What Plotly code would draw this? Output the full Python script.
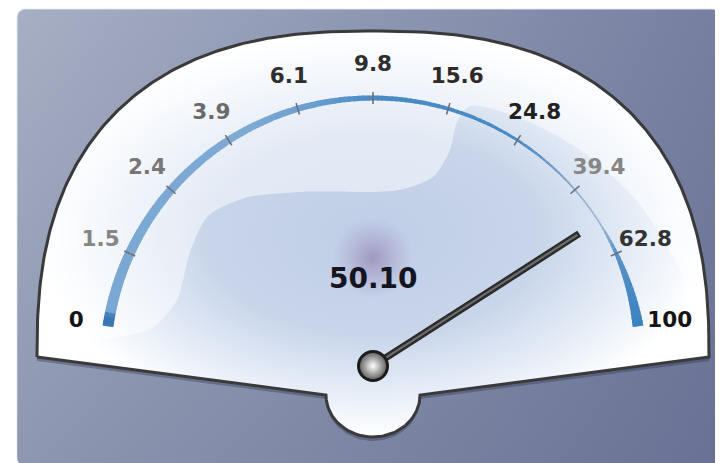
import numpy as np
import plotly.graph_objects as go

# ---------------- data ----------------
tick_labels = ["0", "1.5", "2.4", "3.9", "6.1", "9.8", "15.6", "24.8", "39.4", "62.8", "100"]
tick_values = [0, 1.5, 2.4, 3.9, 6.1, 9.8, 15.6, 24.8, 39.4, 62.8, 100]
needle_value = 50.10
value_text = "50.10"

# ---------------- geometry / style ----------------
PAGE_W, PAGE_H = 723, 463
OFF = 8                           # browser body margin
W, H = PAGE_W - OFF, PAGE_H - OFF  # figure size so that it fits the window
CX, CY = 373, 366                 # pivot of the gauge (page px)
R_MAX = 340                       # radial range of the polar subplot (1 unit = 1 px)
START_ANGLE, END_ANGLE = 171.5, 8.5
N_TICKS = len(tick_values)
STEP = (START_ANGLE - END_ANGLE) / (N_TICKS - 1)
BAND_R = 268
TICK_HALF = 6
LABEL_R = 300
NEEDLE_LEN = 245

label_colors = ["#141414", "#858585", "#7a7676", "#6a6a6a", "#2e2e2e", "#2e2e2e",
                "#2e2a2a", "#222222", "#868686", "#333333", "#141414"]
band_profile_idx = [0, 8.0, 8.6, 9.0, 10]
band_profile_w = [11, 1.6, 1.6, 4.0, 11]
band_colorscale = [[0.0, "#3a76b6"], [0.014, "#3a76b6"], [0.022, "#7aa8d3"], [0.33, "#7eaad4"],
                   [0.42, "#6a9ecf"], [0.5, "#4a8bc5"], [0.7, "#4a89c2"], [0.76, "#6f9bc8"],
                   [0.82, "#9ab4d0"], [0.86, "#9ab6d3"], [0.9, "#5a92c6"], [1.0, "#3a83c0"]]


def value_to_index(v):
    tv = np.asarray(tick_values, float)
    i = int(np.clip(np.searchsorted(tv, v) - 1, 0, len(tv) - 2))
    lo, hi = tv[i], tv[i + 1]
    frac = (v - lo) / (hi - lo) if lo <= 0 else np.log(v / lo) / np.log(hi / lo)
    return i + frac


tick_theta = [i * STEP for i in range(N_TICKS)]
needle_theta = value_to_index(needle_value) * STEP

# ---------------- decoration paths (page px space) ----------------
def rounded_rect(x0, y0, x1, y1, r, n=10):
    xs, ys = [], []
    for ccx, ccy, a0, a1 in [(x1 - r, y0 + r, -90, 0), (x1 - r, y1 - r, 0, 90),
                             (x0 + r, y1 - r, 90, 180), (x0 + r, y0 + r, 180, 270)]:
        a = np.radians(np.linspace(a0, a1, n))
        xs += list(ccx + r * np.cos(a))
        ys += list(ccy + r * np.sin(a))
    return xs + [xs[0]], ys + [ys[0]]


FCX, FCY, FA, FB, FN = 373, 357, 336, 326, 2.5
NCX, NCY, NRX, NRY = 373, 395, 47, 42


def rim(t):
    ct, st = np.cos(t), np.sin(t)
    return FCX + FA * np.sign(ct) * np.abs(ct) ** (2 / FN), FCY - FB * np.abs(st) ** (2 / FN)


def face_path(dy=0):
    t = np.linspace(np.pi, 0, 240)
    rx, ry = rim(t)
    xs, ys = list(rx), list(ry + dy)
    a = np.linspace(0, np.pi, 60)
    xs += list(NCX + NRX * np.cos(a))
    ys += list(NCY + dy + NRY * np.sin(a))
    return xs + [xs[0]], ys + [ys[0]]


bg_x, bg_y = rounded_rect(17, 9, 721, 466, 8)
face_x, face_y = face_path()
sh_x, sh_y = face_path(4)

s_curve = [(41, 338), (110, 338), (152, 328), (177, 300), (190, 252), (208, 216), (245, 198),
           (300, 192), (400, 190), (434, 176), (450, 150), (457, 122), (470, 106), (520, 118),
           (580, 150), (636, 200), (680, 270), (700, 330), (707, 338)]
t_r = np.linspace(0, np.pi, 120)
rxr, ryr = rim(t_r)
keep = ryr <= 338
gloss_x = [p[0] for p in s_curve] + list(rxr[keep] - np.sign(rxr[keep] - FCX) * 2)
gloss_y = [p[1] for p in s_curve] + list(ryr[keep] + 2)

fig = go.Figure()

# background panel
fig.add_trace(go.Scatter(x=bg_x, y=bg_y, mode="lines", fill="toself",
                         line=dict(color="rgba(230,233,242,0.9)", width=1),
                         fillgradient=dict(type="horizontal",
                                           colorscale=[[0, "#a6afc4"], [1, "#767fa0"]]),
                         hoverinfo="skip"))
fig.add_trace(go.Scatter(x=bg_x, y=bg_y, mode="lines", fill="toself", line=dict(width=0),
                         fillgradient=dict(type="vertical",
                                           colorscale=[[0, "rgba(55,65,105,0.22)"], [1, "rgba(55,65,105,0)"]]),
                         hoverinfo="skip"))
# face shadow
fig.add_trace(go.Scatter(x=sh_x, y=sh_y, mode="lines", fill="toself", line=dict(width=0),
                         fillcolor="rgba(40,45,70,0.35)", hoverinfo="skip"))
# face
fig.add_trace(go.Scatter(x=face_x, y=face_y, mode="lines", fill="toself",
                         line=dict(color="#3a3a3c", width=3),
                         fillgradient=dict(type="radial",
                                           colorscale=[[0, "#bfcde6"], [0.5, "#c8d5ea"],
                                                       [0.78, "#e6edf7"], [1, "#ffffff"]]),
                         hoverinfo="skip"))
# gloss
fig.add_trace(go.Scatter(x=gloss_x, y=gloss_y, mode="lines", fill="toself",
                         line=dict(width=0, shape="spline", smoothing=0.8),
                         fillcolor="rgba(255,255,255,0.5)", hoverinfo="skip"))
# glow behind value
fig.add_trace(go.Scatter(x=[CX], y=[258], mode="markers",
                         marker=dict(size=80, color="rgba(160,140,185,0)", line=dict(width=0),
                                     gradient=dict(type="radial", color="rgba(135,115,165,0.6)")),
                         hoverinfo="skip"))

# ---------------- gauge (polar) ----------------
n_seg = 160
seg_idx = (np.arange(n_seg) + 0.5) * (N_TICKS - 1) / n_seg
seg_w = np.interp(seg_idx, band_profile_idx, band_profile_w)
fig.add_trace(go.Barpolar(theta=seg_idx * STEP, r=seg_w, base=BAND_R - seg_w / 2,
                          width=[STEP * (N_TICKS - 1) / n_seg * 1.25] * n_seg,
                          marker=dict(color=seg_idx / (N_TICKS - 1), colorscale=band_colorscale,
                                      cmin=0, cmax=1, line=dict(width=0)),
                          hoverinfo="skip", subplot="polar"))

tr, tt = [], []
for th in tick_theta[1:-1]:
    tr += [BAND_R - TICK_HALF, BAND_R + TICK_HALF, None]
    tt += [th, th, None]
fig.add_trace(go.Scatterpolar(r=tr, theta=tt, mode="lines", line=dict(color="#6e7078", width=1.6),
                              hoverinfo="skip", subplot="polar", cliponaxis=False))

fig.add_trace(go.Scatterpolar(r=[LABEL_R] * N_TICKS, theta=tick_theta, mode="text", text=tick_labels,
                              textposition="middle center",
                              textfont=dict(family="DejaVu Sans", size=21.5, color=label_colors, weight="bold"),
                              hoverinfo="skip", subplot="polar", cliponaxis=False))

fig.add_trace(go.Scatterpolar(r=[0, NEEDLE_LEN], theta=[needle_theta] * 2, mode="lines",
                              line=dict(color="#2a2a2a", width=7), hoverinfo="skip",
                              subplot="polar", cliponaxis=False))
fig.add_trace(go.Scatterpolar(r=[0, NEEDLE_LEN - 2], theta=[needle_theta] * 2, mode="lines",
                              line=dict(color="#6c6c6c", width=2.2), hoverinfo="skip",
                              subplot="polar", cliponaxis=False))
fig.add_trace(go.Scatterpolar(r=[0], theta=[needle_theta], mode="markers",
                              marker=dict(size=29, color="#5a5a5a", line=dict(color="#1c1c1c", width=3),
                                          gradient=dict(type="radial", color="#ffffff")),
                              hoverinfo="skip", subplot="polar", cliponaxis=False))

# polar domain so that the pole lands on (CX, CY) and 1 radial unit = 1 px
bx0 = np.cos(np.radians(START_ANGLE))
bx1 = np.cos(np.radians(END_ANGLE))
x_off = (CX - OFF) + R_MAX * bx0
x_len = R_MAX * (bx1 - bx0)
y_off = (CY - OFF) - R_MAX
polar_domain = dict(x=[x_off / W, (x_off + x_len) / W],
                    y=[1 - (y_off + R_MAX) / H - 1e-6, 1 - y_off / H + 1e-6])

fig.update_layout(
    width=W, height=H, margin=dict(l=0, r=0, t=0, b=0),
    paper_bgcolor="white", plot_bgcolor="rgba(0,0,0,0)", showlegend=False,
    xaxis=dict(range=[OFF, PAGE_W], visible=False, fixedrange=True, domain=[0, 1]),
    yaxis=dict(range=[PAGE_H, OFF], visible=False, fixedrange=True, domain=[0, 1]),
    polar=dict(domain=polar_domain, sector=[END_ANGLE, START_ANGLE], bgcolor="rgba(0,0,0,0)",
               hole=0,
               radialaxis=dict(range=[0, R_MAX], visible=False),
               angularaxis=dict(rotation=START_ANGLE, direction="clockwise", visible=False,
                                thetaunit="degrees")),
    annotations=[dict(x=CX, y=278, xref="x", yref="y", text=value_text, showarrow=False,
                      font=dict(family="DejaVu Sans", size=28, color="#15151f", weight="bold"))],
)

fig.write_html("out.html")
